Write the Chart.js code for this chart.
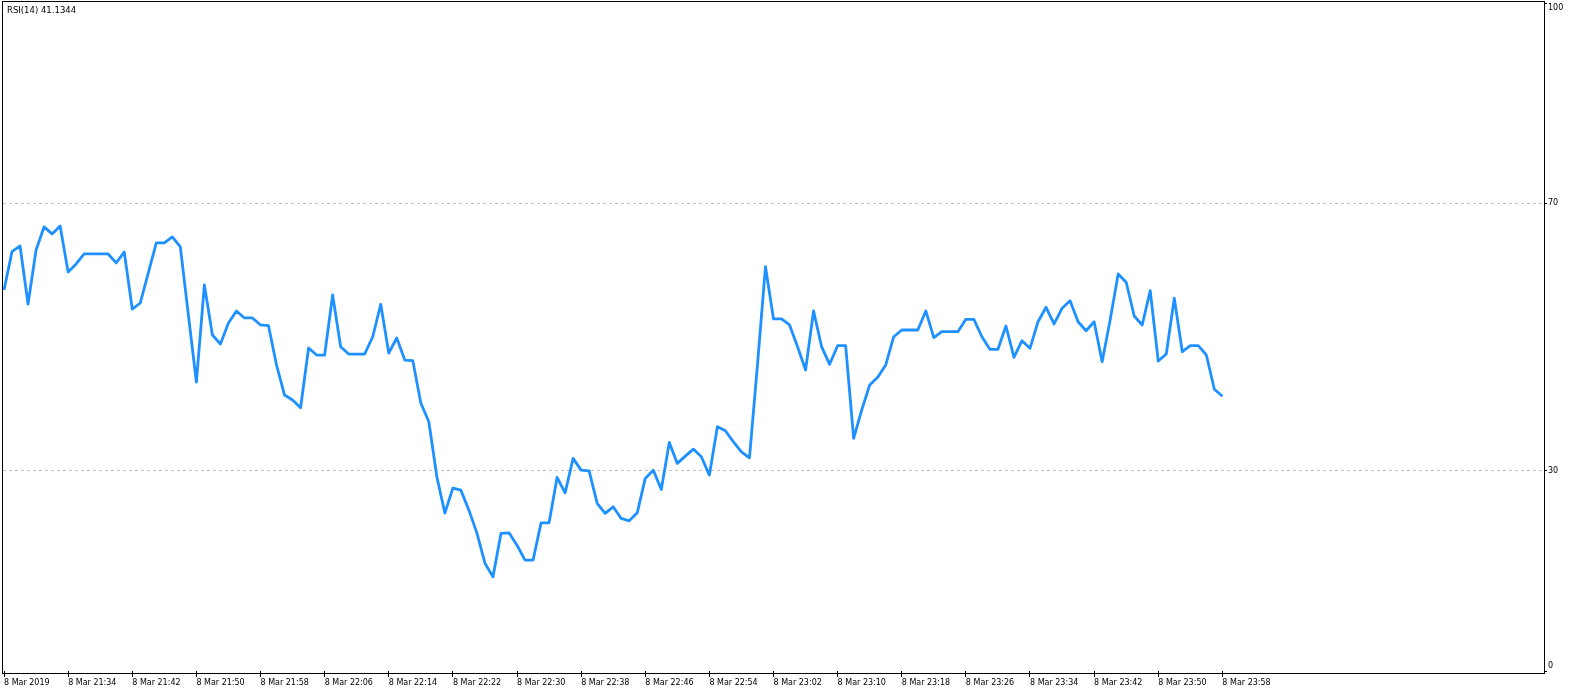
<!DOCTYPE html>
<html>
<head>
<meta charset="utf-8">
<title>RSI(14)</title>
<script src="https://cdn.jsdelivr.net/npm/chart.js@4.4.1/dist/chart.umd.min.js"></script>
<style>
    html, body { margin: 0; padding: 0; background: #fff; }
    #wrap { width: 1570px; height: 694px; }
</style>
</head>
<body>
<div id="wrap"><canvas id="rsi-chart" width="1570" height="694"></canvas></div>
<script>
"use strict";

// one bar per minute, 8 Mar 2019 21:26 .. 23:58
var rsiValues = [
    57.04, 62.78, 63.63, 54.94, 63.03, 66.48, 65.43, 66.63, 59.74, 60.94,
    62.43, 62.43, 62.43, 62.43, 61.09, 62.73, 54.19, 55.09, 59.59, 64.08,
    64.08, 64.98, 63.48, 53.30, 43.26, 57.79, 50.30, 48.95, 52.10, 53.90,
    52.85, 52.85, 51.80, 51.69, 45.81, 41.31, 40.56, 39.41, 48.35, 47.30,
    47.30, 56.29, 48.55, 47.45, 47.45, 47.45, 50.04, 54.90, 47.60, 49.85,
    46.55, 46.45, 40.11, 37.31, 29.07, 23.63, 27.38, 27.08, 24.08, 20.64,
    16.14, 14.09, 20.59, 20.68, 18.84, 16.59, 16.59, 22.18, 22.18, 28.98,
    26.67, 31.83, 30.07, 29.97, 25.09, 23.59, 24.58, 22.84, 22.48, 23.68,
    28.83, 30.07, 27.18, 34.22, 31.08, 32.17, 33.22, 32.07, 29.33, 36.56,
    35.96, 34.31, 32.82, 31.92, 45.81, 60.53, 52.70, 52.70, 51.80, 48.55,
    45.06, 53.90, 48.55, 45.91, 48.70, 48.70, 34.82, 39.06, 42.81, 43.96,
    45.81, 50.04, 51.05, 51.05, 51.05, 53.90, 49.90, 50.79, 50.79, 50.79,
    52.65, 52.65, 50.04, 48.16, 48.16, 51.65, 46.96, 49.45, 48.31, 52.29,
    54.45, 51.95, 54.30, 55.44, 52.29, 50.94, 52.29, 46.30, 52.55, 59.44,
    58.19, 53.15, 51.80, 56.94, 46.40, 47.45, 55.80, 47.80, 48.70, 48.70,
    47.30, 42.17, 41.1344
];

// time labels, one every 8 bars
var tickLabels = [
    "8 Mar 2019", "8 Mar 21:34", "8 Mar 21:42", "8 Mar 21:50", "8 Mar 21:58",
    "8 Mar 22:06", "8 Mar 22:14", "8 Mar 22:22", "8 Mar 22:30", "8 Mar 22:38",
    "8 Mar 22:46", "8 Mar 22:54", "8 Mar 23:02", "8 Mar 23:10", "8 Mar 23:18",
    "8 Mar 23:26", "8 Mar 23:34", "8 Mar 23:42", "8 Mar 23:50", "8 Mar 23:58"
];
var tickStep = 8;

var levelTicks = [0, 30, 70, 100];
var dashedLevels = [30, 70];

var indicatorName = "RSI(14)";

var FONT = '"DejaVu Sans", Verdana, sans-serif';

var points = rsiValues.map(function (v, i) {
    return {x: i, y: v};
});

// black frame + indicator caption in the top left corner
var framePlugin = {
    id: 'frame',
    afterDraw: function (chart) {
        var ctx = chart.ctx;
        var a = chart.chartArea;
        ctx.save();
        ctx.strokeStyle = '#000';
        ctx.lineWidth = 1;
        ctx.strokeRect(a.left - 0.5, a.top - 1.5, a.right - a.left + 1, a.bottom - a.top + 4);
        ctx.fillStyle = '#000';
        ctx.font = '8.5px ' + FONT;
        ctx.textBaseline = 'middle';
        ctx.textAlign = 'left';
        ctx.fillText(indicatorName + ' ' + rsiValues[rsiValues.length - 1], a.left + 4, a.top + 8);
        ctx.restore();
    }
};

var ctx = document.getElementById('rsi-chart').getContext('2d');
var chart = new Chart(ctx, {
    type: 'line',
    data: {
        datasets: [{
            label: indicatorName,
            data: points,
            borderColor: '#1E90FF',
            borderWidth: 2.8,
            borderJoinStyle: 'round',
            pointRadius: 0,
            tension: 0,
            fill: false
        }]
    },
    options: {
        responsive: false,
        animation: false,
        devicePixelRatio: 1,
        layout: {
            padding: {left: 3, top: 3, right: 0, bottom: 0}
        },
        plugins: {
            legend: {display: false},
            tooltip: {enabled: false}
        },
        scales: {
            x: {
                type: 'linear',
                min: -0.125,
                max: 192.125,
                afterFit: function (scale) {
                    scale.height = 23;
                    scale.paddingLeft = 0;
                    scale.paddingRight = 0;
                },
                afterBuildTicks: function (scale) {
                    scale.ticks = tickLabels.map(function (t, i) {
                        return {value: i * tickStep};
                    });
                },
                grid: {
                    drawOnChartArea: false,
                    drawTicks: true,
                    tickLength: 6,
                    color: '#000',
                    tickColor: '#000'
                },
                border: {display: false},
                ticks: {
                    autoSkip: false,
                    maxRotation: 0,
                    align: 'start',
                    padding: 1,
                    color: '#000',
                    font: {family: FONT, size: 8},
                    callback: function (value, index) {
                        return tickLabels[index];
                    }
                }
            },
            y: {
                position: 'right',
                min: 0,
                max: 100,
                afterFit: function (scale) {
                    scale.width = 26;
                    scale.paddingTop = 0;
                    scale.paddingBottom = 0;
                },
                afterBuildTicks: function (scale) {
                    scale.ticks = levelTicks.map(function (v) {
                        return {value: v};
                    });
                },
                grid: {
                    tickLength: 3,
                    tickColor: '#000',
                    color: function (c) {
                        if (c.tick && dashedLevels.indexOf(c.tick.value) >= 0) {
                            return '#c0c0c0';
                        }
                        return 'rgba(0,0,0,0)';
                    }
                },
                border: {display: false, dash: [3, 3]},
                ticks: {
                    autoSkip: false,
                    padding: 1,
                    color: '#000',
                    font: {family: FONT, size: 8},
                    callback: function (value) {
                        // keep the end labels inside the pane
                        if (value === 100) return ['', '100'];
                        if (value === 0) return ['0', ''];
                        return String(value);
                    }
                }
            }
        }
    },
    plugins: [framePlugin]
});
</script>
</body>
</html>
